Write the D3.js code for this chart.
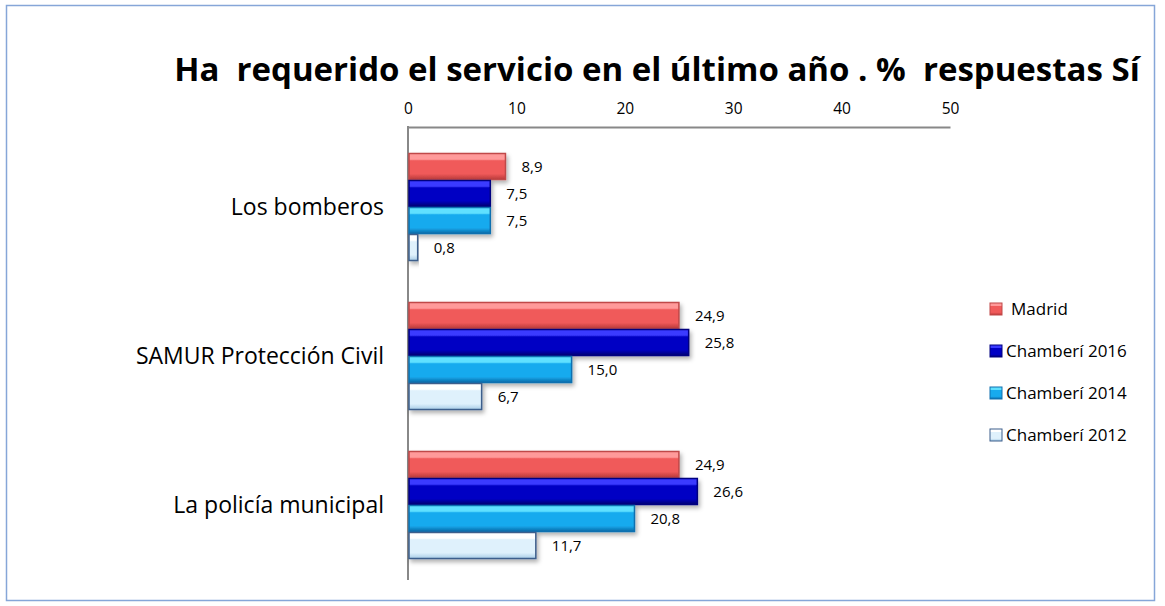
<!DOCTYPE html>
<html><head><meta charset="utf-8">
<script src="https://cdn.jsdelivr.net/npm/d3@7"></script>
<style>
html,body{margin:0;padding:0;background:#fff;}
svg{display:block;font-family:"Open Sans",sans-serif;}
</style></head>
<body>
<svg id="chart" width="1165" height="606"></svg>
<script>
const title = "Ha  requerido el servicio en el último año . %  respuestas Sí";
const categories = ["Los bomberos", "SAMUR Protección Civil", "La policía municipal"];
const seriesNames = ["Madrid", "Chamberí 2016", "Chamberí 2014", "Chamberí 2012"];
const madrid = [8.9, 24.9, 24.9];
const chamberi2016 = [7.5, 25.8, 26.6];
const chamberi2014 = [7.5, 15.0, 20.8];
const chamberi2012 = [0.8, 6.7, 11.7];
const xTicks = [0, 10, 20, 30, 40, 50];
const seriesValues = [madrid, chamberi2016, chamberi2014, chamberi2012];
const seriesColors = [
  {base:"#f05a5a", light:"#ff9a9a", dark:"#b83a3a", stroke:"#c04848"},
  {base:"#0000c4", light:"#3a3aff", dark:"#000070", stroke:"#000080"},
  {base:"#17aaee", light:"#5ee0ff", dark:"#0a6aa8", stroke:"#1070b0"},
  {base:"#dff1fc", light:"#ffffff", dark:"#a8cce6", stroke:"#3d5f8c"}
];

const svg = d3.select("#chart");
const defs = svg.append("defs");
const f = defs.append("filter").attr("id","shadow").attr("x","-5%").attr("y","-20%").attr("width","115%").attr("height","160%");
f.append("feDropShadow").attr("dx",2).attr("dy",3).attr("stdDeviation",2).attr("flood-color","#000").attr("flood-opacity",0.3);

seriesColors.forEach((c,i)=>{
  const g = defs.append("linearGradient").attr("id","grad"+i).attr("x1",0).attr("y1",0).attr("x2",0).attr("y2",1);
  g.append("stop").attr("offset","0%").attr("stop-color",c.light);
  g.append("stop").attr("offset","22%").attr("stop-color",c.light);
  g.append("stop").attr("offset","28%").attr("stop-color",c.base);
  g.append("stop").attr("offset","78%").attr("stop-color",c.base);
  g.append("stop").attr("offset","100%").attr("stop-color",c.dark);
});

// frame
svg.append("rect").attr("x",6.5).attr("y",5.5).attr("width",1148).attr("height",595)
  .attr("fill","#fff").attr("stroke","#86a6d8").attr("stroke-width",1.5);

// title
svg.append("text").attr("x",657).attr("y",81).attr("text-anchor","middle")
  .attr("font-size",33).attr("font-weight","bold").attr("fill","#000")
  .style("white-space","pre").text(title);

const x = d3.scaleLinear().domain([0,50]).range([408,950]);
const y0 = d3.scaleBand().domain(categories).range([127,585]).paddingInner(0.275).paddingOuter(0.1745);
const y1 = d3.scaleBand().domain(seriesNames).range([0,y0.bandwidth()]);

// x axis on top
const xAxis = d3.axisTop(x).tickValues(xTicks).tickSize(0).tickPadding(13).tickFormat(d3.format("d"));
const gx = svg.append("g").attr("transform","translate(0,127)").call(xAxis);
gx.select(".domain").attr("stroke","#888").attr("stroke-width",2);
gx.selectAll("text").attr("font-size",15.5).attr("font-family","Open Sans").attr("fill","#000");

// y axis line
svg.append("line").attr("x1",x(0)).attr("x2",x(0)).attr("y1",126).attr("y2",580)
  .attr("stroke","#888").attr("stroke-width",2);

// category labels
svg.selectAll(".cat").data(categories).enter().append("text")
  .attr("class","cat").attr("x",384).attr("y",d=>y0(d)+y0.bandwidth()/2)
  .attr("dy","0.35em").attr("text-anchor","end").attr("font-size",23).attr("fill","#000")
  .text(d=>d);

// bars
const fmt = v => v.toFixed(1).replace(".", ",");
seriesNames.forEach((s,si)=>{
  const g = svg.append("g");
  const data = categories.map((c,ci)=>({c, v:seriesValues[si][ci]}));
  g.selectAll("rect").data(data).enter().append("rect")
    .attr("x",x(0)+1).attr("y",d=>y0(d.c)+y1(s)+0.5)
    .attr("width",d=>x(d.v)-x(0)).attr("height",y1.bandwidth()-1)
    .attr("fill","url(#grad"+si+")").attr("stroke",seriesColors[si].stroke).attr("stroke-width",1.5)
    .attr("filter","url(#shadow)");
  g.selectAll("text").data(data).enter().append("text")
    .attr("x",d=>x(d.v)+17).attr("y",d=>y0(d.c)+y1(s)+y1.bandwidth()/2)
    .attr("dy","0.35em").attr("font-size",15).attr("fill","#000")
    .text(d=>fmt(d.v));
});

// legend
const legY = [309, 351, 393, 435];
const leg = svg.selectAll(".leg").data(seriesNames).enter().append("g").attr("class","leg")
  .attr("transform",(d,i)=>`translate(990,${legY[i]})`);
leg.append("rect").attr("x",0).attr("y",-6).attr("width",12).attr("height",12)
  .attr("fill",(d,i)=>"url(#grad"+i+")").attr("stroke",(d,i)=>seriesColors[i].stroke).attr("stroke-width",1);
leg.append("text").attr("x",(d,i)=>i===0?21:16).attr("y",0).attr("dy","0.35em")
  .attr("font-size",17).attr("fill","#000").text(d=>d);
</script>
</body></html>
